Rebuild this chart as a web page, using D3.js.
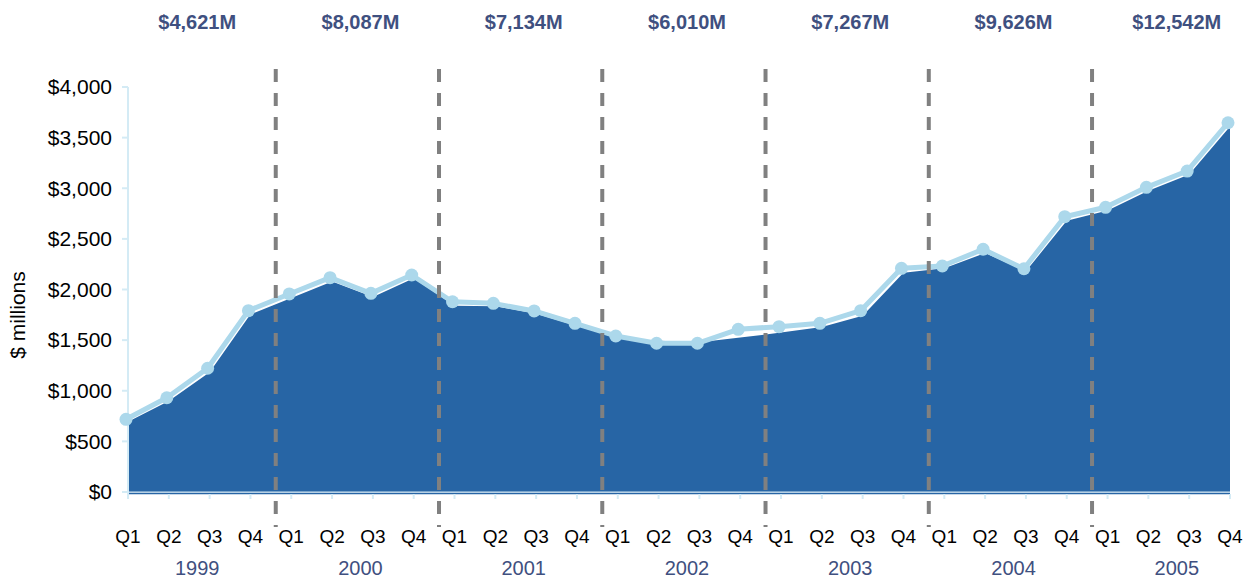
<!DOCTYPE html>
<html>
<head>
<meta charset="utf-8">
<script src="https://cdn.jsdelivr.net/npm/d3@7"></script>
<style>
  body { margin: 0; background: #fff; }
  svg { display: block; font-family: "Liberation Sans", Arial, sans-serif; }
</style>
</head>
<body>
<div id="chart"></div>
<script>
// data
const years = ["1999", "2000", "2001", "2002", "2003", "2004", "2005"];
const quarters = ["Q1", "Q2", "Q3", "Q4"];
const yearTotals = ["$4,621M", "$8,087M", "$7,134M", "$6,010M", "$7,267M", "$9,626M", "$12,542M"];
const yTicks = [0, 500, 1000, 1500, 2000, 2500, 3000, 3500, 4000];

// quarterly values, $ millions (light blue line with markers)
const lineValues = [
  718, 931, 1222, 1791,
  1956, 2117, 1962, 2143,
  1879, 1863, 1788, 1666,
  1541, 1469, 1469, 1607,
  1633, 1666, 1791, 2209,
  2232, 2397, 2205, 2719,
  2812, 3009, 3170, 3647
];

// quarterly values, $ millions (dark blue area)
const areaValues = [
  694, 900, 1182, 1755,
  1915, 2080, 1925, 2110,
  1840, 1835, 1760, 1640,
  1520, 1495, 1480, 1525,
  1575, 1630, 1740, 2166,
  2210, 2360, 2180, 2680,
  2780, 2975, 3135, 3610
];

const width = 1256, height = 579;
const x0 = 128, x1 = 1230, yTop = 87, yBottom = 492;

const svg = d3.select("#chart").append("svg")
  .attr("width", width)
  .attr("height", height);

const idx = d3.range(lineValues.length);

const x = d3.scalePoint()
  .domain(idx)
  .range([x0, x1]);

const y = d3.scaleLinear()
  .domain([0, 4000])
  .range([yBottom, yTop]);

const step = x.step();

// area
const area = d3.area()
  .x((d, i) => x(i))
  .y0(y(0))
  .y1(d => y(d));

svg.append("path")
  .datum(areaValues)
  .attr("d", area)
  .attr("fill", "#2765a5");

// x axis lines
svg.append("line")
  .attr("x1", x0).attr("x2", x1)
  .attr("y1", y(0)).attr("y2", y(0))
  .attr("stroke", "#d4ebf5").attr("stroke-width", 1);
svg.append("line")
  .attr("x1", x0).attr("x2", x1)
  .attr("y1", y(0) + 1.5).attr("y2", y(0) + 1.5)
  .attr("stroke", "#2765a5").attr("stroke-width", 1.5);

// x ticks
svg.append("g")
  .selectAll("line")
  .data(idx)
  .join("line")
  .attr("x1", d => x(d)).attr("x2", d => x(d))
  .attr("y1", y(0) + 2).attr("y2", y(0) + 7)
  .attr("stroke", "#d4ebf5").attr("stroke-width", 2);

// quarter labels
svg.append("g")
  .selectAll("text")
  .data(idx)
  .join("text")
  .attr("x", d => x(d))
  .attr("y", 543)
  .attr("text-anchor", "middle")
  .style("font-size", "19px")
  .style("fill", "#000")
  .text(d => quarters[d % 4]);

// year labels + totals
const yearCenter = i => x(i * 4) + step * 1.5 + 8;

svg.append("g")
  .selectAll("text")
  .data(years)
  .join("text")
  .attr("x", (d, i) => yearCenter(i))
  .attr("y", 575)
  .attr("text-anchor", "middle")
  .style("font-size", "20px")
  .style("fill", "#3f5080")
  .text(d => d);

svg.append("g")
  .selectAll("text")
  .data(yearTotals)
  .join("text")
  .attr("x", (d, i) => yearCenter(i))
  .attr("y", 29)
  .attr("text-anchor", "middle")
  .style("font-size", "20px")
  .style("font-weight", "bold")
  .style("fill", "#3f5080")
  .text(d => d);

// y axis
svg.append("line")
  .attr("x1", x0).attr("x2", x0)
  .attr("y1", y(4000)).attr("y2", y(0) + 7)
  .attr("stroke", "#d4ebf5").attr("stroke-width", 2);

const yAxis = svg.append("g");
yAxis.selectAll("line")
  .data(yTicks)
  .join("line")
  .attr("x1", x0 - 6).attr("x2", x0)
  .attr("y1", d => y(d)).attr("y2", d => y(d))
  .attr("stroke", "#d4ebf5").attr("stroke-width", 2);

yAxis.selectAll("text")
  .data(yTicks)
  .join("text")
  .attr("x", 112)
  .attr("y", d => y(d))
  .attr("dy", "0.35em")
  .attr("text-anchor", "end")
  .style("font-size", "21px")
  .style("fill", "#000")
  .text(d => "$" + d3.format(",")(d));

svg.append("text")
  .attr("transform", "translate(25,315) rotate(-90)")
  .attr("text-anchor", "middle")
  .style("font-size", "21px")
  .style("fill", "#000")
  .text("$ millions");

// line with markers
const line = d3.line()
  .x((d, i) => x(i))
  .y(d => y(d));

const lineG = svg.append("g")
  .attr("transform", "translate(-2,0)");

lineG.append("path")
  .datum(lineValues)
  .attr("d", line)
  .attr("fill", "none")
  .attr("stroke", "#acd8eb")
  .attr("stroke-width", 5)
  .attr("stroke-linejoin", "round");

lineG.selectAll("circle")
  .data(lineValues)
  .join("circle")
  .attr("cx", (d, i) => x(i))
  .attr("cy", d => y(d))
  .attr("r", 6.5)
  .attr("fill", "#acd8eb");

// dashed year separators
svg.append("g")
  .selectAll("line")
  .data(d3.range(1, years.length))
  .join("line")
  .attr("x1", i => x(i * 4 - 1) + step * 0.62)
  .attr("x2", i => x(i * 4 - 1) + step * 0.62)
  .attr("y1", 69)
  .attr("y2", 527)
  .attr("stroke", "#808080")
  .attr("stroke-width", 4)
  .attr("stroke-dasharray", "13,11");
</script>
</body>
</html>
